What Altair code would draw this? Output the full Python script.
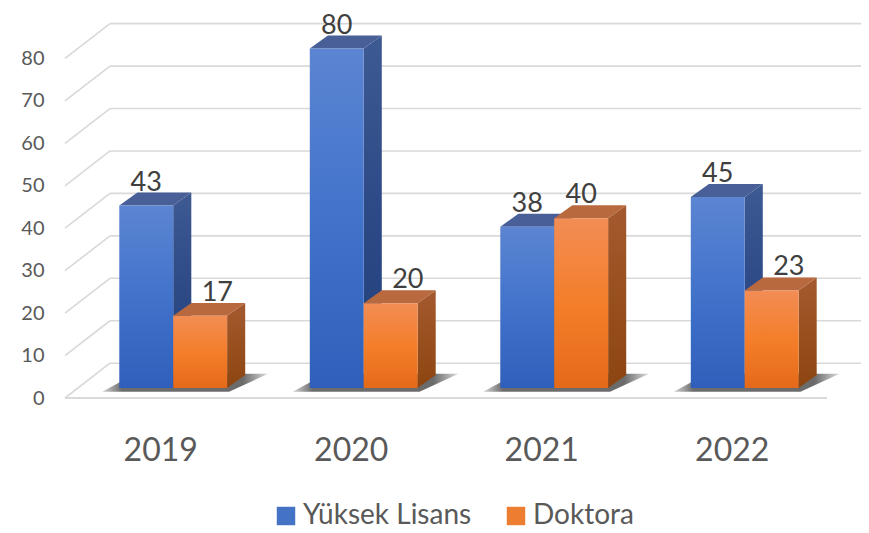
import json
import altair as alt
import pandas as pd

# ---------------- data ----------------
years = ["2019", "2020", "2021", "2022"]
series = ["Yüksek Lisans", "Doktora"]
yuksek_lisans = [43, 80, 38, 45]
doktora = [17, 20, 40, 23]
y_ticks = [0, 10, 20, 30, 40, 50, 60, 70, 80]

# ---------------- style / geometry constants ----------------
BAR_W = 0.283          # bar width in category units
BX, BY = 0.068, 2.35   # offset of bar plane from front plane
DX, DY = 0.095, 3.05   # bar depth (side / top faces)
WX, WY = 0.236, 8.2    # back wall offset
X_LO, X_HI = -0.5, 3.5
X_DOM = [-0.5, 3.6785]
Y_DOM = [0, 90]

FONT = "Lato"

xscale = alt.Scale(domain=X_DOM, nice=False, zero=False)
yscale = alt.Scale(domain=Y_DOM, nice=False, zero=False)
label_expr = json.dumps(years) + "[datum.value]"
xaxis = alt.Axis(values=[0, 1, 2, 3], labelExpr=label_expr, title=None, domain=False,
                 ticks=False, tickSize=0, grid=False, labelFontSize=32, labelFont=FONT,
                 labelColor="#595959", labelPadding=37, labelFlush=False, labelOverlap=False)
yaxis = alt.Axis(values=y_ticks, title=None, domain=False, ticks=False, tickSize=0, grid=False,
                 labelFontSize=20, labelFont=FONT, labelColor="#595959", labelPadding=21)


def X(f):
    return alt.X(f, type="quantitative", scale=xscale, axis=xaxis)


def Y(f):
    return alt.Y(f, type="quantitative", scale=yscale, axis=yaxis)


# ---------------- build geometry tables ----------------
values = {series[0]: yuksek_lisans, series[1]: doktora}
front, side, top, labels, shadow = [], [], [], [], []
for i, yr in enumerate(years):
    group = {}
    for s, name in enumerate(series):
        v = values[name][i]
        xl = i - BAR_W + s * BAR_W + BX
        xr = xl + BAR_W
        base, t = BY, v + BY
        bid = f"{yr}-{s}"
        group[s] = (xl, xr)
        front.append(dict(series=name, xl=xl, xr=xr, base=base, top=t))
        side.append(dict(series=name, id=bid, x=xr, y=t, y2=base))
        side.append(dict(series=name, id=bid, x=xr + DX, y=t + DY, y2=base + DY))
        top.append(dict(series=name, id=bid, y=t, x=xl, x2=xr))
        top.append(dict(series=name, id=bid, y=t + DY, x=xl + DX, x2=xr + DX))
        other = values[series[1 - s]][i]
        shift = 0.09 if (s == 1 and v < other) else 0.0
        labels.append(dict(x=(xl + xr) / 2 + shift, y=t + DY, text=str(v)))
    xl0, xr1 = group[0][0], group[1][1]
    shadow.append(dict(id=yr, y=BY - 0.9, x=xl0 - 0.09, x2=xr1 + 0.01))
    shadow.append(dict(id=yr, y=BY + DY + 0.3, x=xl0 + DX - 0.01, x2=xr1 + DX + 0.12))

front = pd.DataFrame(front)
side = pd.DataFrame(side)
top = pd.DataFrame(top)
labels = pd.DataFrame(labels)
shadow = pd.DataFrame(shadow)
grid = pd.DataFrame(dict(v=y_ticks))
grid["xf"] = X_LO
grid["xb"] = X_LO + WX
grid["yb"] = grid["v"] + WY
grid["xe"] = X_HI + WX
floor = pd.DataFrame(dict(x=[X_LO], x2=[X_HI], y=[0]))

GRID_COLOR = "#d9d9d9"

diag = alt.Chart(grid).mark_rule(color=GRID_COLOR, strokeWidth=1.6).encode(
    x=X("xf"), x2="xb", y=Y("v"), y2="yb")
back = alt.Chart(grid).mark_rule(color=GRID_COLOR, strokeWidth=1.6, clip=True).encode(
    x=X("xb"), x2="xe", y=Y("yb"))
floor_line = alt.Chart(floor).mark_rule(color=GRID_COLOR, strokeWidth=2).encode(
    x=X("x"), x2="x2", y=Y("y"))

shadow_layer = alt.Chart(shadow).mark_area(
    orient="horizontal", opacity=0.75,
    color=alt.Gradient(gradient="linear", x1=0, x2=1, y1=0, y2=0,
                       stops=[alt.GradientStop(color="#c8c8c8", offset=0),
                              alt.GradientStop(color="#3a3a3a", offset=0.12),
                              alt.GradientStop(color="#3a3a3a", offset=0.85),
                              alt.GradientStop(color="#d0d0d0", offset=1)])).encode(
    y=Y("y"), x=X("x"), x2="x2", detail="id:N")


def grad(c_top, c_mid, c_bot):
    return alt.Gradient(gradient="linear", x1=0, x2=0, y1=0, y2=1,
                        stops=[alt.GradientStop(color=c_top, offset=0),
                               alt.GradientStop(color=c_mid, offset=0.5),
                               alt.GradientStop(color=c_bot, offset=1)])


styles = {
    series[0]: dict(front=grad("#5c85d2", "#4173cb", "#2f5fba"),
                    side=grad("#3e5a93", "#2d4a87", "#213f7b"),
                    top="#485f98"),
    series[1]: dict(front=grad("#f28d55", "#f47e2a", "#e46a1a"),
                    side=grad("#a45a2f", "#99501f", "#8c4511"),
                    top="#b8693e"),
}

bar_layers = []
for name in series:
    st = styles[name]
    f = alt.Chart(front[front.series == name]).mark_rect(color=st["front"]).encode(
        x=X("xl"), x2="xr", y=Y("base"), y2="top")
    sd = alt.Chart(side[side.series == name]).mark_area(color=st["side"]).encode(
        x=X("x"), y=Y("y"), y2="y2", detail="id:N")
    tp = alt.Chart(top[top.series == name]).mark_area(orient="horizontal", color=st["top"]).encode(
        y=Y("y"), x=X("x"), x2="x2", detail="id:N")
    bar_layers += [sd, tp, f]

text = alt.Chart(labels).mark_text(fontSize=27, font=FONT, color="#404040", baseline="alphabetic",
                                   dy=-2).encode(x=X("x"), y=Y("y"), text="text:N")

legend_df = pd.DataFrame(dict(series=series))
legend_layer = alt.Chart(legend_df).mark_square(opacity=0).encode(
    x=alt.value(0), y=alt.value(0),
    color=alt.Color("series:N",
                    scale=alt.Scale(domain=series, range=["#4472c4", "#ed7d31"]),
                    legend=alt.Legend(orient="none", legendX=207, legendY=486, direction="horizontal",
                                      title=None, symbolType="square", symbolSize=340,
                                      symbolOpacity=1, symbolStrokeWidth=0, labelFontSize=28,
                                      labelFont=FONT, labelColor="#595959", labelOffset=3,
                                      labelLimit=400, columnPadding=30, padding=0)))

chart = alt.layer(diag, back, floor_line, shadow_layer, *bar_layers, text, legend_layer).properties(
    width=796, height=382,
    autosize=alt.AutoSizeParams(type="none"),
    padding={"left": 57, "top": 8, "right": 0, "bottom": 135},
).configure_view(stroke=None)

chart.save("out.html", embed_options={"renderer": "svg", "actions": False})
